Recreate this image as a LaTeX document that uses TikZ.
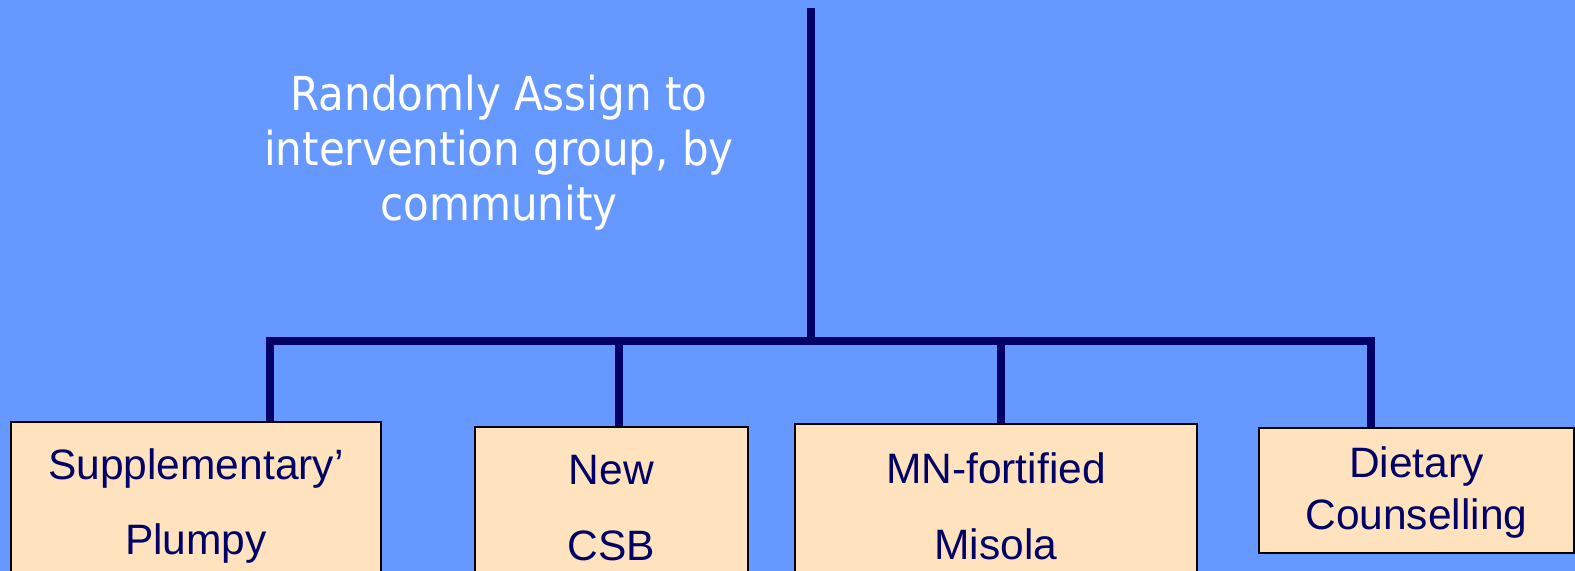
\documentclass[tikz,border=0pt]{standalone}
\usepackage{fontspec}
\setmainfont{Liberation Sans}
\newfontfamily\assignfont{DejaVu Sans Condensed}
\usepackage{xcolor}
\definecolor{slideblue}{HTML}{6699FF}
\definecolor{navy}{HTML}{000066}
\definecolor{peach}{HTML}{FFE3BF}

\begin{document}
\begin{tikzpicture}[x=0.02cm, y=-0.02cm]
	\tikzstyle{group}=[draw=black, line width=1.1pt, fill=peach, text=navy, align=center, anchor=north west, inner sep=0pt]
	\tikzstyle{link}=[draw=navy, line width=4.5pt]

	\useasboundingbox (0,0) rectangle (1575,571);
	\clip (0,0) rectangle (1575,571);
	\fill[slideblue] (0,0) rectangle (1575,571);

	\node[text=white, font=\assignfont\fontsize{26.6}{31.3}\selectfont, align=center](assign) at (499,153){Randomly Assign to\\intervention group, by\\community};

	% the four arms
	\node[group, font=\fontsize{24.2}{43}\selectfont, minimum width=7.4cm, minimum height=3.36cm](plumpy) at (10,421){Supplementary’\\Plumpy};
	\node[group, font=\fontsize{24.2}{43}\selectfont, minimum width=5.46cm, minimum height=3.24cm](csb) at (474,426){New\\CSB};
	\node[group, font=\fontsize{24.2}{43}\selectfont, minimum width=8.04cm, minimum height=3.3cm](misola) at (794,423){MN-fortified\\Misola};
	\node[group, font=\fontsize{24.2}{29.6}\selectfont, minimum width=6.3cm, minimum height=2.5cm, text depth=0.1cm](counsel) at (1258,427){Dietary\\Counselling};

	\coordinate (top) at (811,8);
	\coordinate (hub) at (811,341);
	\coordinate (fork1) at (270,341);
	\coordinate (fork2) at (619,341);
	\coordinate (fork3) at (1001,341);
	\coordinate (fork4) at (1371,341);

	\draw[link] (top) -- (hub);
	\draw[link] (fork1 |- plumpy.north) -- (fork1) -- (fork4) -- (fork4 |- counsel.north);
	\draw[link] (fork2) -- (fork2 |- csb.north);
	\draw[link] (fork3) -- (fork3 |- misola.north);
\end{tikzpicture}
\end{document}
